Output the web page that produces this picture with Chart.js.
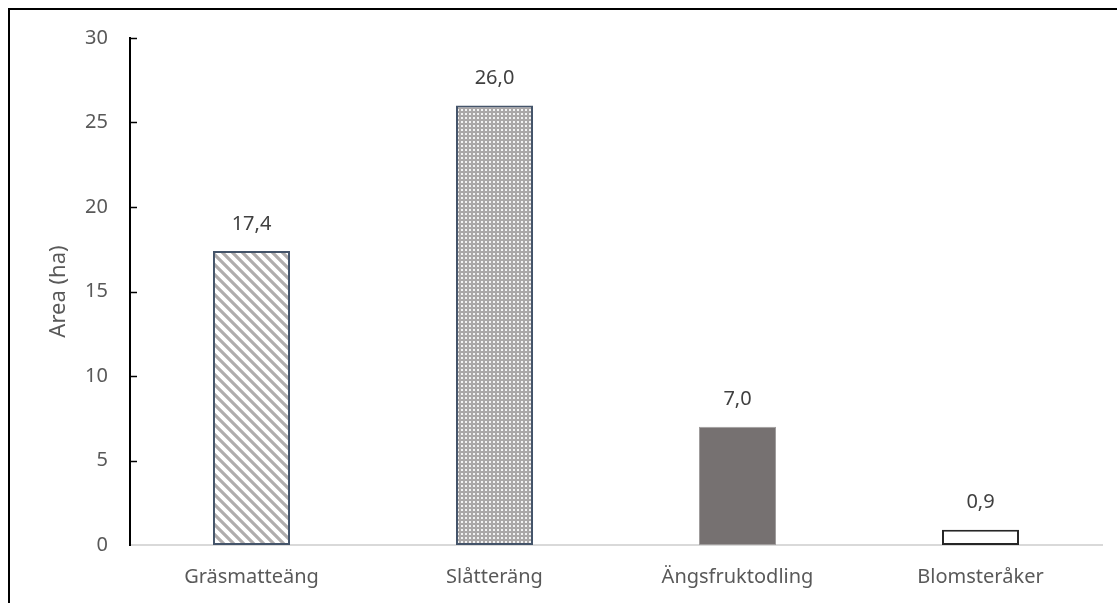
<!DOCTYPE html>
<html>
<head>
<meta charset="utf-8">
<script src="https://cdn.jsdelivr.net/npm/chart.js@4.4.0/dist/chart.umd.min.js"></script>
<style>
  html, body { margin: 0; padding: 0; background: #fff; }
  #wrap { position: relative; width: 1117px; height: 603px; }
</style>
</head>
<body>
<div id="wrap"><canvas id="chart"></canvas></div>
<script>
// data
const categories = ["Gräsmatteäng", "Slåtteräng", "Ängsfruktodling", "Blomsteråker"];
const areaValues = [17.4, 26.0, 7.0, 0.9];
const yTicks = [0, 5, 10, 15, 20, 25, 30];

const FONT = "'Noto Sans', sans-serif";

// diagonal stripes "\" for the first bar
function stripePattern() {
  const c = document.createElement("canvas");
  c.width = 10; c.height = 10;
  const g = c.getContext("2d");
  g.fillStyle = "#fff";
  g.fillRect(0, 0, 10, 10);
  g.strokeStyle = "#b0adad";
  g.lineWidth = 3.2;
  g.beginPath();
  g.moveTo(-5, -5); g.lineTo(15, 15);
  g.moveTo(-5, 5); g.lineTo(5, 15);
  g.moveTo(5, -5); g.lineTo(15, 5);
  g.stroke();
  return g.createPattern(c, "repeat");
}

// small dots for the second bar
function dotPattern() {
  const c = document.createElement("canvas");
  c.width = 8; c.height = 8;
  const g = c.getContext("2d");
  g.fillStyle = "#aaa7a7";
  g.fillRect(0, 0, 8, 8);
  g.fillStyle = "#f2f2f2";
  g.fillRect(1, 1, 2, 2);
  g.fillRect(5, 1, 2, 2);
  g.fillRect(1, 5, 2, 2);
  g.fillRect(5, 5, 2, 2);
  return g.createPattern(c, "repeat");
}

const ctx = document.getElementById("chart").getContext("2d");

const frameAndTicks = {
  id: "frameAndTicks",
  beforeDraw(chart) {
    const c = chart.ctx;
    c.save();
    c.fillStyle = "#fff";
    c.fillRect(0, 0, chart.width, chart.height);
    c.strokeStyle = "#000";
    c.lineWidth = 2;
    c.strokeRect(9, 9, chart.width + 20, chart.height + 20);
    c.restore();
  },
  afterDraw(chart) {
    const c = chart.ctx;
    const y = chart.scales.y;
    const left = chart.chartArea.left;
    c.save();
    c.strokeStyle = "#000";
    c.lineWidth = 1.5;
    yTicks.forEach(v => {
      if (v === 0) return;
      const py = Math.round(y.getPixelForValue(v)) + 0.5;
      c.beginPath();
      c.moveTo(left, py);
      c.lineTo(left + 7, py);
      c.stroke();
    });
    // value labels above the bars
    const meta = chart.getDatasetMeta(0);
    c.fillStyle = "#404040";
    c.font = "20px " + FONT;
    c.textAlign = "center";
    c.textBaseline = "middle";
    meta.data.forEach((bar, i) => {
      c.fillText(areaValues[i].toFixed(1).replace(".", ","), bar.x, bar.y - 27);
    });
    c.restore();
  }
};

new Chart(ctx, {
  type: "bar",
  data: {
    labels: categories,
    datasets: [{
      data: areaValues,
      backgroundColor: [stripePattern(), dotPattern(), "#767171", "#ffffff"],
      borderColor: ["#44546a", "#44546a", "#a09d9d", "#262626"],
      borderWidth: [2, 2, 1, 2],
      borderSkipped: false,
      categoryPercentage: 1,
      barPercentage: 0.317
    }]
  },
  options: {
    responsive: true,
    maintainAspectRatio: false,
    animation: false,
    layout: { padding: { top: 38, right: 15, left: 0, bottom: 0 } },
    plugins: {
      legend: { display: false },
      tooltip: { enabled: false }
    },
    scales: {
      x: {
        grid: { display: false, drawTicks: false },
        border: { display: true, color: "#d9d9d9", width: 2 },
        ticks: { color: "#595959", font: { family: FONT, size: 20 }, padding: 20 },
        afterFit(scale) { scale.height = 58; }
      },
      y: {
        min: 0,
        max: 30,
        afterBuildTicks(scale) { scale.ticks = yTicks.map(v => ({ value: v })); },
        grid: { display: false, drawTicks: false },
        border: { display: true, color: "#000", width: 2 },
        ticks: { color: "#595959", font: { family: FONT, size: 20 }, padding: 22 },
        title: {
          display: true,
          text: "Area (ha)",
          color: "#595959",
          font: { family: FONT, size: 22 },
          padding: { top: 46, bottom: 0 }
        },
        afterFit(scale) { scale.width = 130; }
      }
    }
  },
  plugins: [frameAndTicks]
});
</script>
</body>
</html>
